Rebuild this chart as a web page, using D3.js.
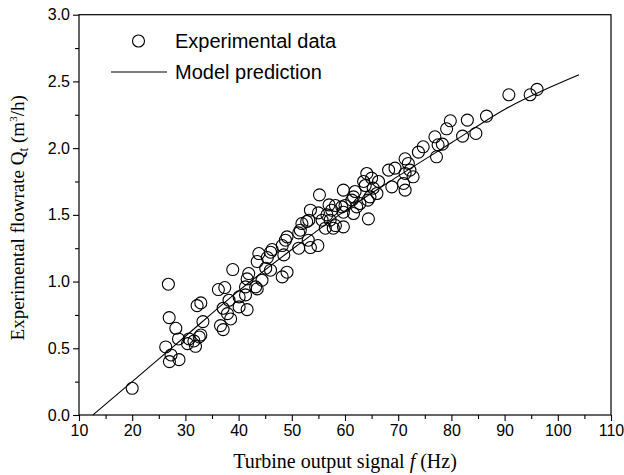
<!DOCTYPE html>
<html>
<head>
<meta charset="utf-8">
<script src="https://cdn.jsdelivr.net/npm/d3@7/dist/d3.min.js"></script>
<style>
  html, body { margin: 0; padding: 0; background: #fff; }
  svg { display: block; }
</style>
</head>
<body>
<svg id="chart" width="624" height="475"></svg>
<script>
// ---- data ----
const xTicks = [10, 20, 30, 40, 50, 60, 70, 80, 90, 100, 110];
const yTicks = [0.0, 0.5, 1.0, 1.5, 2.0, 2.5, 3.0];
const expF = [
  20.0, 26.8, 26.95, 28.2, 28.7, 26.3, 27.3, 27.0, 28.8, 30.4, 30.7, 31.9, 31.6, 32.6, 32.9, 33.3,
  32.2, 32.9, 36.2, 37.4, 38.9, 38.2, 40.1, 41.3, 37.1, 38.5, 37.9, 40.1, 41.6, 36.6, 37.1,
  41.9, 41.6, 44.4, 43.2, 43.5, 41.3, 43.8, 43.5, 45.4, 46.0, 46.3, 45.1, 46.0, 48.5, 48.2,
  48.8, 49.1, 49.1, 48.2,
  51.3, 53.5, 54.9, 51.3, 51.6, 51.9, 52.8, 53.2, 53.5, 55.0, 55.2, 57.0, 55.7, 56.6, 57.2,
  57.8, 53.1, 56.3,
  58.2, 59.7, 58.2, 57.5, 60.0, 59.4, 59.7, 61.6, 62.8, 62.2, 59.7, 61.9, 61.6, 61.3, 64.3,
  64.7, 64.4, 64.1, 63.5, 63.8, 65.0, 66.3, 65.3, 66.0,
  68.8, 68.2, 69.4, 71.3, 72.2, 72.8, 71.3, 71.0, 71.3, 71.9, 73.8, 74.7, 76.9, 77.2, 77.5,
  78.3, 79.1, 79.8,
  82.1, 83.0, 84.6, 86.6, 90.8, 94.8, 96.1
];
const expQ = [
  0.20, 0.98, 0.73, 0.65, 0.57, 0.51, 0.45, 0.40, 0.415, 0.535, 0.57, 0.515, 0.555, 0.585, 0.60, 0.70,
  0.82, 0.84, 0.94, 0.955, 1.09, 0.86, 0.885, 0.96, 0.80, 0.72, 0.76, 0.81, 0.79, 0.67, 0.64,
  1.06, 1.02, 1.01, 0.96, 0.945, 0.90, 1.21, 1.15, 1.18, 1.22, 1.24, 1.10, 1.085, 1.20, 1.27,
  1.31, 1.335, 1.07, 1.035,
  1.25, 1.255, 1.27, 1.365, 1.385, 1.435, 1.45, 1.46, 1.535, 1.515, 1.65, 1.575, 1.46, 1.50, 1.46,
  1.40, 1.31, 1.40,
  1.42, 1.41, 1.57, 1.535, 1.57, 1.56, 1.52, 1.51, 1.585, 1.56, 1.685, 1.675, 1.635, 1.61, 1.61,
  1.635, 1.47, 1.81, 1.75, 1.72, 1.775, 1.75, 1.70, 1.66,
  1.71, 1.835, 1.85, 1.81, 1.835, 1.785, 1.685, 1.735, 1.92, 1.885, 1.97, 2.01, 2.085, 1.935, 2.025,
  2.03, 2.145, 2.205,
  2.09, 2.21, 2.11, 2.24, 2.40, 2.40, 2.44
];
const modelF = [12.6, 20, 30, 40, 50, 60, 70, 80, 90, 104];
const modelQ = [0.0, 0.25, 0.59, 0.93, 1.24, 1.53, 1.79, 2.04, 2.29, 2.55];

// ---- layout ----
const svg = d3.select("#chart");
const pL = 79, pR = 611, pT = 14.7, pB = 415;
const x = d3.scaleLinear().domain([10, 110]).range([pL, pR]);
const y = d3.scaleLinear().domain([0, 3]).range([pB, pT]);

const sans = "'Liberation Sans', Arial, Helvetica, sans-serif";
const serif = "'Liberation Serif', 'Times New Roman', Times, serif";

// frame
svg.append("rect")
  .attr("x", pL).attr("y", pT)
  .attr("width", pR - pL).attr("height", pB - pT)
  .attr("fill", "none").attr("stroke", "#000").attr("stroke-width", 1.2);

// minor ticks
const xMinor = d3.range(15, 110, 10);
const yMinor = d3.range(0.25, 3, 0.5);
const xAxisMinor = d3.axisBottom(x).tickValues(xMinor).tickSize(4).tickFormat("");
const yAxisMinor = d3.axisLeft(y).tickValues(yMinor).tickSize(4).tickFormat("");
svg.append("g").attr("transform", `translate(0,${pB})`).call(xAxisMinor)
  .call(g => g.select(".domain").remove());
svg.append("g").attr("transform", `translate(${pL},0)`).call(yAxisMinor)
  .call(g => g.select(".domain").remove());

// major axes
const xAxis = d3.axisBottom(x).tickValues(xTicks).tickSize(6).tickPadding(4).tickFormat(d3.format("d"));
const yAxis = d3.axisLeft(y).tickValues(yTicks).tickSize(6).tickPadding(3).tickFormat(d3.format(".1f"));
const gx = svg.append("g").attr("transform", `translate(0,${pB})`).call(xAxis);
const gy = svg.append("g").attr("transform", `translate(${pL},0)`).call(yAxis);
[gx, gy].forEach(g => {
  g.select(".domain").remove();
  g.selectAll("text").attr("font-family", sans).attr("font-size", 16).attr("fill", "#000");
});
svg.selectAll("g line").attr("stroke", "#000").attr("stroke-width", 1.1);

// model line
const modelData = modelF.map((f, i) => [f, modelQ[i]]);
svg.append("path")
  .datum(modelData)
  .attr("fill", "none").attr("stroke", "#000").attr("stroke-width", 1.1)
  .attr("d", d3.line().x(d => x(d[0])).y(d => y(d[1])).curve(d3.curveMonotoneX));

// experimental points
const expData = expF.map((f, i) => [f, expQ[i]]);
svg.append("g").selectAll("circle")
  .data(expData).join("circle")
  .attr("cx", d => x(d[0])).attr("cy", d => y(d[1]))
  .attr("r", 6)
  .attr("fill", "none").attr("stroke", "#000").attr("stroke-width", 1.1);

// legend
svg.append("circle").attr("cx", 138.5).attr("cy", 41).attr("r", 6)
  .attr("fill", "none").attr("stroke", "#000").attr("stroke-width", 1.1);
svg.append("text").attr("x", 175).attr("y", 47.5)
  .attr("font-family", sans).attr("font-size", 20).text("Experimental data");
svg.append("line").attr("x1", 111).attr("x2", 167).attr("y1", 72).attr("y2", 72)
  .attr("stroke", "#000").attr("stroke-width", 1.1);
svg.append("text").attr("x", 175).attr("y", 79)
  .attr("font-family", sans).attr("font-size", 20).text("Model prediction");

// x axis title
const xt = svg.append("text").attr("x", (pL + pR) / 2).attr("y", 468)
  .attr("text-anchor", "middle").attr("font-family", serif).attr("font-size", 20);
xt.append("tspan").text("Turbine output signal ");
xt.append("tspan").attr("font-style", "italic").text("f");
xt.append("tspan").text(" (Hz)");

// y axis title
const yt = svg.append("text")
  .attr("transform", `translate(24,${(pT + pB) / 2 + 3}) rotate(-90)`)
  .attr("text-anchor", "middle").attr("font-family", serif).attr("font-size", 19);
yt.append("tspan").text("Experimental flowrate Q");
yt.append("tspan").attr("font-size", 14).attr("dy", 4).text("t");
yt.append("tspan").attr("dy", -4).text(" (m");
yt.append("tspan").attr("font-size", 11).attr("dy", -7).text("3");
yt.append("tspan").attr("dy", 7).text("/h)");
</script>
</body>
</html>
